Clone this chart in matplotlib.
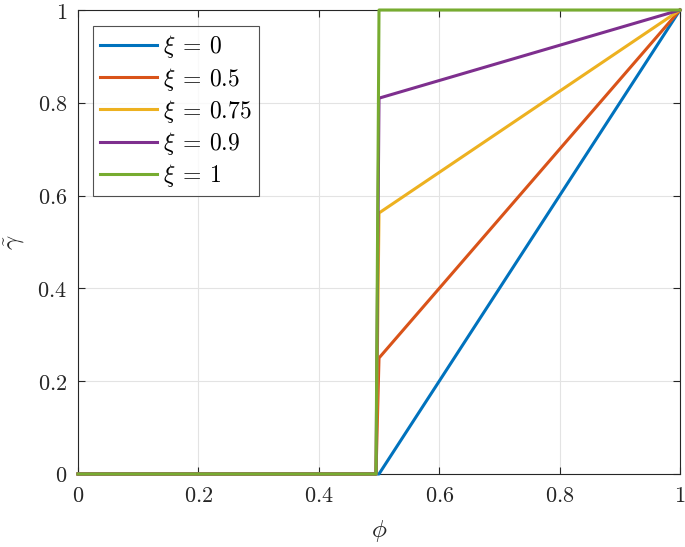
import matplotlib
matplotlib.use("Agg")
import matplotlib.pyplot as plt
from matplotlib.ticker import FuncFormatter

plt.rcParams['mathtext.fontset'] = 'cm'
plt.rcParams['font.family'] = ['DejaVu Serif']

xi_labels = ["0", "0.5", "0.75", "0.9", "1"]
phi = [0.0, 0.495, 0.5, 1.0]
gamma_xi0 = [0.0, 0.0, 0.0, 1.0]
gamma_xi05 = [0.0, 0.0, 0.25, 1.0]
gamma_xi075 = [0.0, 0.0, 0.5625, 1.0]
gamma_xi09 = [0.0, 0.0, 0.81, 1.0]
gamma_xi1 = [0.0, 0.0, 1.0, 1.0]
series = [gamma_xi0, gamma_xi05, gamma_xi075, gamma_xi09, gamma_xi1]
colors = ["#0072BD", "#D95319", "#EDB120", "#7E2F8E", "#77AC30"]
xticks = [0, 0.2, 0.4, 0.6, 0.8, 1]
yticks = [0, 0.2, 0.4, 0.6, 0.8, 1]

fig = plt.figure(figsize=(6.85, 5.47), dpi=100)
ax = fig.add_axes([0.1139, 0.1335, 0.8788, 0.8482])
for lab, ys, c in zip(xi_labels, series, colors):
    ax.plot(phi, ys, color=c, lw=2.2, label=r"$\xi\:=\:%s$" % lab, clip_on=False, zorder=3)

ax.set_xlim(0, 1)
ax.set_ylim(0, 1)
ax.set_xticks(xticks)
ax.set_yticks(yticks)
fmt = FuncFormatter(lambda v, p: r"$%s$" % ("%g" % v))
ax.xaxis.set_major_formatter(fmt)
ax.yaxis.set_major_formatter(fmt)
ax.tick_params(direction='in', length=5, width=0.8, colors='#262626', labelsize=16,
               top=True, right=True, pad=8)
for s in ax.spines.values():
    s.set_color('#262626')
    s.set_linewidth(0.8)
ax.grid(True, color='#e3e3e3', lw=0.8)
ax.set_axisbelow(True)

ax.set_xlabel(r"$\phi$", fontsize=18, color='#262626', labelpad=8)
ax.set_ylabel(r"$\tilde{\gamma}$", fontsize=18, color='#262626', labelpad=7)

leg = ax.legend(loc='upper left', bbox_to_anchor=(0.025, 0.965), fontsize=17, frameon=True,
                fancybox=False, edgecolor='#262626', handlelength=2.4, handletextpad=0.25,
                labelspacing=0.22, borderpad=0.3, borderaxespad=0)
leg.get_frame().set_linewidth(0.8)

fig.savefig("out.png", dpi=100)
